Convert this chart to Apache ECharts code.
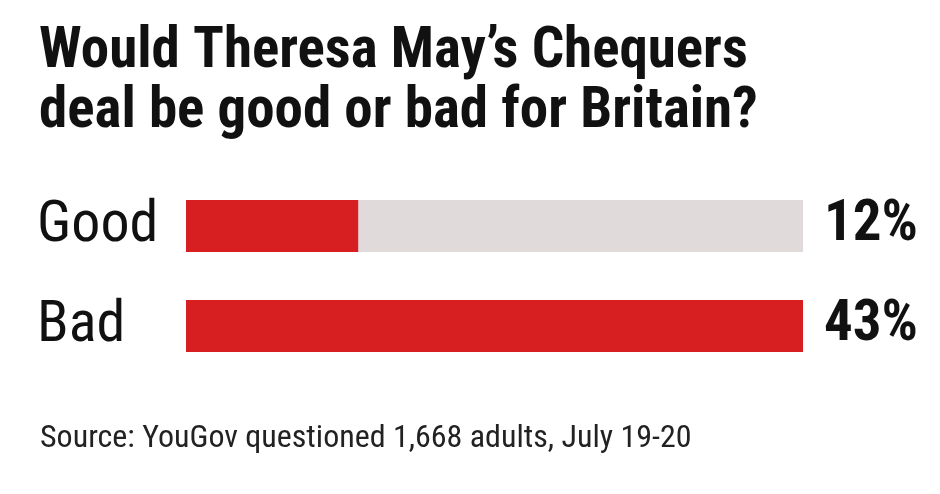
<!DOCTYPE html>
<html><head><meta charset="utf-8">
<script src="https://cdn.jsdelivr.net/npm/echarts@6/dist/echarts.min.js"></script>
<style>html,body{margin:0;padding:0;background:#fff}#c{width:940px;height:494px}</style>
</head><body><div id="c"></div>
<script>
const categories = ['Good', 'Bad'];
const values = [12, 43];
const titleText = 'Would Theresa May\u2019s Chequers\ndeal be good or bad for Britain?';
const sourceText = 'Source: YouGov questioned 1,668 adults, July 19-20';
const FONT = "'Roboto Condensed', 'DejaVu Sans Condensed', sans-serif";
const chart = echarts.init(document.getElementById('c'));
chart.setOption({
  backgroundColor: '#ffffff',
  animation: false,
  title: [
    { text: titleText, left: 34, top: 18,
      textStyle: { fontFamily: FONT, fontWeight: 'bold', fontSize: 57, lineHeight: 60, color: '#111' } },
    { text: sourceText, left: 35, top: 418,
      textStyle: { fontFamily: FONT, fontWeight: 'normal', fontSize: 32, color: '#222' } }
  ],
  grid: { left: 186, right: 137, top: 176, bottom: 118 },
  xAxis: { type: 'value', min: 0, max: 43, show: false },
  yAxis: [
    { type: 'category', data: categories, inverse: true,
      axisLine: { show: false }, axisTick: { show: false },
      axisLabel: { align: 'left', margin: 149, fontFamily: FONT, fontSize: 58, color: '#111' } },
    { type: 'category', data: values.map(v => v + '%'), inverse: true, position: 'right',
      axisLine: { show: false }, axisTick: { show: false },
      axisLabel: { align: 'right', margin: 115, fontFamily: FONT, fontWeight: 'bold', fontSize: 57, color: '#111' } }
  ],
  series: [{
    type: 'bar', data: values, barWidth: 52, yAxisIndex: 0,
    showBackground: true, backgroundStyle: { color: '#e1dada' },
    itemStyle: { color: '#d71f22' }
  }]
});
</script></body></html>
